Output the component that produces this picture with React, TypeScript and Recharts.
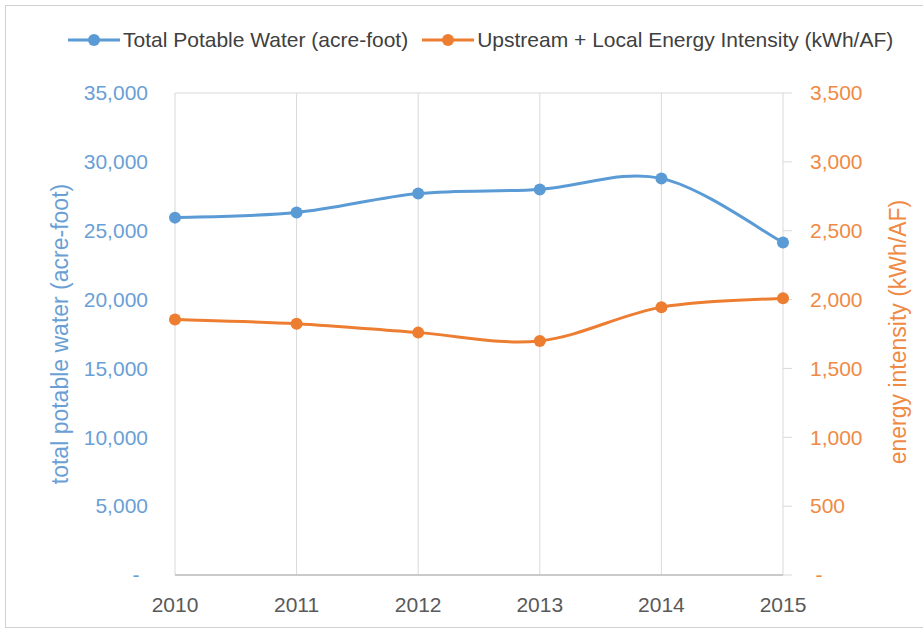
import React from 'react';
import { LineChart, Line, XAxis, YAxis, CartesianGrid, Legend } from 'recharts';

const years = ['2010', '2011', '2012', '2013', '2014', '2015'];
const potableWater = [25950, 26320, 27700, 28000, 28800, 24150];
const energyIntensity = [1855, 1825, 1760, 1700, 1945, 2010];
const waterTicks = [0, 5000, 10000, 15000, 20000, 25000, 30000, 35000];
const energyTicks = [0, 500, 1000, 1500, 2000, 2500, 3000, 3500];

const BLUE = '#5B9BD5';
const ORANGE = '#ED7D31';
const BLUE_TEXT = '#6A9FD6';
const ORANGE_TEXT = '#EF8A45';
const FONT = '"Liberation Sans", Arial, sans-serif';

const data = years.map((y, i) => ({ year: y, water: potableWater[i], energy: energyIntensity[i] }));

const catmullRom = (context: any) => {
  let pts: number[][] = [];
  return {
    areaStart() {},
    areaEnd() {},
    lineStart() { pts = []; },
    point(x: number, y: number) { pts.push([+x, +y]); },
    lineEnd() {
      if (!pts.length) return;
      context.moveTo(pts[0][0], pts[0][1]);
      for (let i = 0; i < pts.length - 1; i++) {
        const p0 = pts[i - 1] || pts[i];
        const p1 = pts[i];
        const p2 = pts[i + 1];
        const p3 = pts[i + 2] || p2;
        const c1x = p1[0] + (p2[0] - p0[0]) / 6;
        const c1y = p1[1] + (p2[1] - p0[1]) / 6;
        const c2x = p2[0] - (p3[0] - p1[0]) / 6;
        const c2y = p2[1] - (p3[1] - p1[1]) / 6;
        context.bezierCurveTo(c1x, c1y, c2x, c2y, p2[0], p2[1]);
      }
    },
  };
};

const fmt = (v: number) => v.toLocaleString('en-US');

const LeftTick = (props: any) => {
  const { x, y, payload } = props;
  const v = payload.value;
  if (v === 0) {
    return <text x={x - 39} y={y} dy="0.35em" textAnchor="middle" fill={BLUE_TEXT} fontSize={21} fontFamily={FONT}>-</text>;
  }
  return <text x={x - 27} y={y} dy="0.35em" textAnchor="end" fill={BLUE_TEXT} fontSize={21} fontFamily={FONT}>{fmt(v)}</text>;
};

const RightTick = (props: any) => {
  const { x, y, payload } = props;
  const v = payload.value;
  if (v === 0) {
    return <text x={x + 9} y={y} dy="0.35em" textAnchor="middle" fill={ORANGE_TEXT} fontSize={21} fontFamily={FONT}>-</text>;
  }
  return <text x={x} y={y} dy="0.35em" textAnchor="start" fill={ORANGE_TEXT} fontSize={21} fontFamily={FONT}>{fmt(v)}</text>;
};

const BottomTick = (props: any) => {
  const { x, y, payload } = props;
  return <text x={x} y={y} dy="0.71em" textAnchor="middle" fill="#595959" fontSize={21} fontFamily={FONT}>{payload.value}</text>;
};

const LegendIcon = ({ color }: { color: string }) => (
  <svg width={52} height={14} style={{ display: 'block' }}>
    <line x1={0} y1={7} x2={52} y2={7} stroke={color} strokeWidth={3} />
    <circle cx={26} cy={7} r={6} fill={color} />
  </svg>
);

const LegendContent = () => (
  <div style={{ display: 'flex', alignItems: 'center', paddingLeft: 68, fontFamily: FONT, fontSize: 21, color: '#404040', whiteSpace: 'nowrap' }}>
    <LegendIcon color={BLUE} />
    <span style={{ marginLeft: 3 }}>Total Potable Water (acre-foot)</span>
    <span style={{ marginLeft: 14 }}><LegendIcon color={ORANGE} /></span>
    <span style={{ marginLeft: 3 }}>Upstream + Local Energy Intensity (kWh/AF)</span>
  </div>
);

const LeftTitle = () => (
  <text x={60} y={334} transform="rotate(-90 60 334)" textAnchor="middle" dominantBaseline="central" fill={BLUE_TEXT} fontSize={23} fontFamily={FONT}>
    total potable water (acre-foot)
  </text>
);

const RightTitle = () => (
  <text x={898} y={332} transform="rotate(-90 898 332)" textAnchor="middle" dominantBaseline="central" fill={ORANGE_TEXT} fontSize={23} fontFamily={FONT}>
    energy intensity (kWh/AF)
  </text>
);

export default function App() {
  return (
    <div style={{ position: 'absolute', left: 0, top: 0, width: 923, height: 630, background: '#fff', fontFamily: FONT }}>
      <div style={{ position: 'absolute', left: 5, top: 5, width: 940, height: 621, border: '1px solid #d0d0d0' }} />
      <LineChart width={923} height={630} data={data} margin={{ top: 93, right: 0, bottom: 0, left: 0 }}>
        <CartesianGrid stroke="#d9d9d9" strokeWidth={1} />
        <XAxis dataKey="year" height={55} tickLine={false} axisLine={{ stroke: '#bfbfbf', strokeWidth: 1.5 }} tickSize={0} tickMargin={22} tick={<BottomTick />} />
        <YAxis yAxisId="left" orientation="left" width={175} domain={[0, 35000]} ticks={waterTicks} axisLine={false} tickLine={false} tickSize={0} tickMargin={0} tick={<LeftTick />} label={LeftTitle} />
        <YAxis yAxisId="right" orientation="right" width={140} domain={[0, 3500]} ticks={energyTicks} axisLine={false} tickLine={{ stroke: '#d9d9d9' }} tickSize={9} tickMargin={18} tick={<RightTick />} label={RightTitle} />
        <Legend layout="horizontal" verticalAlign="middle" align="center" wrapperStyle={{ top: 28, left: 0, width: 923 }} content={<LegendContent />} />
        <Line yAxisId="left" dataKey="water" name="Total Potable Water (acre-foot)" stroke={BLUE} strokeWidth={3} type={catmullRom as any} dot={{ r: 6, fill: BLUE, stroke: BLUE, strokeWidth: 0 }} activeDot={false} isAnimationActive={false} />
        <Line yAxisId="right" dataKey="energy" name="Upstream + Local Energy Intensity (kWh/AF)" stroke={ORANGE} strokeWidth={3} type={catmullRom as any} dot={{ r: 6, fill: ORANGE, stroke: ORANGE, strokeWidth: 0 }} activeDot={false} isAnimationActive={false} />
      </LineChart>
    </div>
  );
}
